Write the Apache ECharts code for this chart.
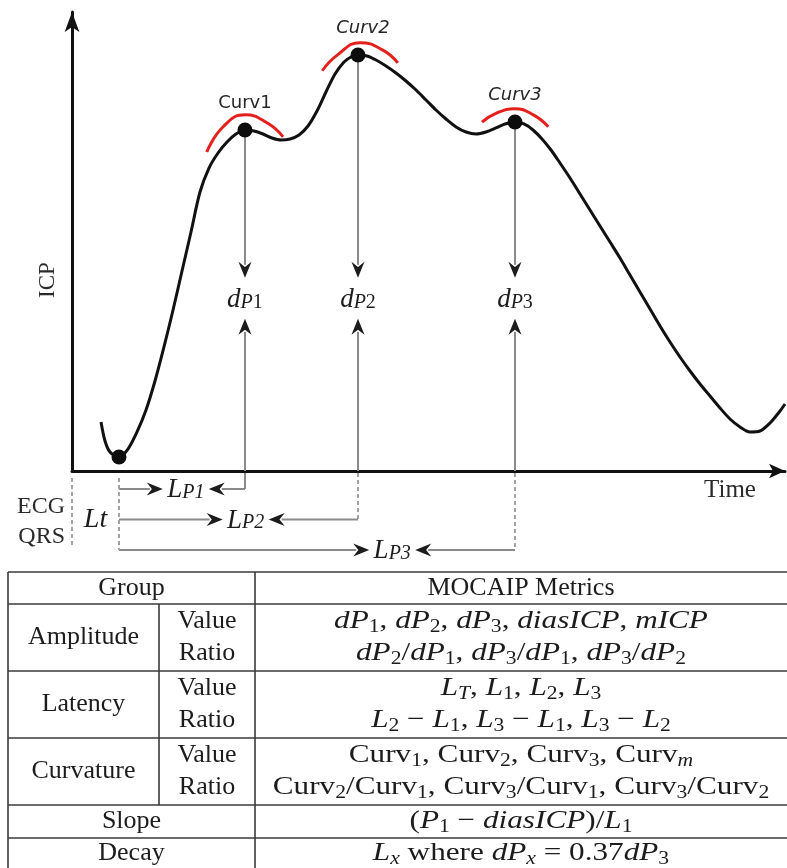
<!DOCTYPE html>
<html>
<head>
<meta charset="utf-8">
<title>ICP pulse morphology and MOCAIP metrics</title>
<script src="https://cdn.jsdelivr.net/npm/echarts@6.0.0/dist/echarts.min.js"></script>
<style>
  html, body { margin: 0; padding: 0; background: #fff; }
  #chart { width: 787px; height: 868px; }
</style>
</head>
<body>
<div id="chart"></div>
<script>
// ICP pulse over one cardiac cycle (time and pressure in arbitrary units)
const pulseTime = [4.07, 4.63, 5.33, 6.59, 7.85, 9.12, 10.38, 11.64, 12.90, 14.17, 15.43, 16.69, 17.95, 19.21, 20.48, 21.74, 23.00, 24.26, 25.53, 26.79, 28.05, 29.31, 30.58, 31.84, 33.10, 34.36, 35.62, 36.89, 38.15, 39.13, 40.11, 41.37, 42.64, 44.04, 45.44, 46.84, 48.25, 49.65, 51.05, 52.45, 53.86, 55.26, 56.66, 58.06, 59.47, 60.73, 62.13, 63.39, 64.66, 65.92, 67.18, 68.44, 69.85, 71.25, 72.65, 74.05, 75.46, 76.86, 78.26, 79.66, 81.07, 82.47, 83.87, 85.27, 86.68, 88.08, 89.48, 90.88, 92.29, 93.69, 95.09, 96.49, 97.90, 99.30, 100.00];
const pulseIcp = [10.68, 6.54, 4.14, 3.05, 4.79, 8.50, 13.29, 19.61, 27.02, 35.08, 43.57, 52.07, 60.78, 66.01, 69.28, 71.68, 73.42, 74.29, 74.07, 73.42, 72.55, 72.11, 72.33, 73.20, 75.16, 78.43, 82.57, 86.49, 89.11, 90.20, 90.63, 90.41, 89.54, 88.24, 86.71, 84.97, 83.01, 80.83, 78.65, 76.69, 74.95, 73.86, 73.42, 73.86, 74.73, 75.60, 76.03, 75.60, 74.29, 72.33, 69.93, 67.10, 63.83, 60.35, 56.86, 53.38, 49.89, 46.41, 42.70, 39.00, 35.29, 31.59, 28.10, 24.84, 21.79, 18.95, 16.34, 13.73, 11.33, 9.59, 8.50, 8.71, 10.46, 13.07, 14.60];

// Sample positions of the diastolic trough and of the sub-peaks P1, P2, P3
const troughIndex = 3;
const peakIndex = [17, 30, 46];
const peakNames = ['Curv1', 'Curv2', 'Curv3'];

// Curvature arcs fitted over each sub-peak
const arc1Time = [18.9, 21.2, 24.3, 27.4, 29.6];
const arc1Icp = [69.5, 75.0, 77.6, 75.8, 72.8];
const arc2Time = [35.1, 37.2, 40.4, 43.6, 45.7];
const arc2Icp = [87.2, 90.6, 93.3, 91.7, 88.9];
const arc3Time = [57.5, 59.6, 62.1, 64.7, 66.8];
const arc3Icp = [76.0, 78.0, 78.9, 77.6, 75.0];

// Metric table
const tableHeader = ['Group', 'MOCAIP Metrics'];
const groupNames = ['Amplitude', 'Latency', 'Curvature'];
const kindNames = ['Value', 'Ratio'];
const singleNames = ['Slope', 'Decay'];
const metricRows = [
  'dP_1, dP_2, dP_3, diasICP, mICP',
  'dP_2/dP_1, dP_3/dP_1, dP_3/dP_2',
  'L_T, L_1, L_2, L_3',
  'L_2 - L_1, L_3 - L_1, L_3 - L_2',
  '\\rm{Curv}_1, \\rm{Curv}_2, \\rm{Curv}_3, \\rm{Curv}_m',
  '\\rm{Curv}_2/\\rm{Curv}_1, \\rm{Curv}_3/\\rm{Curv}_1, \\rm{Curv}_3/\\rm{Curv}_2',
  '(P_1 - diasICP)/L_1',
  'L_x\\rm{ where }dP_x = 0.37dP_3'
];

const SERIF = '"Liberation Serif", "Times New Roman", serif';
const SANS = '"DejaVu Sans", Verdana, sans-serif';
const INK = '#1c1c1c';
const GUIDE = '#8a8a8a';
const DASH = { stroke: '#a2a2a2', lineDash: [4, 3] };

// tier of the dP labels, and placement of the latency rows under the axis
const DP_LEVEL = 37.3;
const ROW_FIRST = 18;
const ROW_STEP = 30.5;
const LP_SPOT = [0.53, 0.53, 0.69];
const HEAD = 16;

const TAG_RICH = {
  d: { fontFamily: SERIF, fontStyle: 'italic', fontSize: 27, lineHeight: 30 },
  p: { fontFamily: SERIF, fontStyle: 'italic', fontSize: 20, lineHeight: 20, padding: [5, 0, 0, 0] },
  n: { fontFamily: SERIF, fontSize: 20, lineHeight: 20, padding: [5, 0, 0, 0] }
};
const LAT_RICH = {
  d: { fontFamily: SERIF, fontStyle: 'italic', fontSize: 27, lineHeight: 30 },
  p: { fontFamily: SERIF, fontStyle: 'italic', fontSize: 20, lineHeight: 20, padding: [5, 0, 0, 0] },
  n: { fontFamily: SERIF, fontStyle: 'italic', fontSize: 20, lineHeight: 20, padding: [5, 0, 0, 0] }
};
const MATH_RICH = {
  i: { fontFamily: SERIF, fontStyle: 'italic', fontSize: 26, lineHeight: 30 },
  r: { fontFamily: SERIF, fontSize: 26, lineHeight: 30 },
  si: { fontFamily: SERIF, fontStyle: 'italic', fontSize: 18, lineHeight: 16, padding: [12, 0, 0, 0] },
  sr: { fontFamily: SERIF, fontSize: 18, lineHeight: 16, padding: [12, 0, 0, 0] }
};

function seg(x1, y1, x2, y2, extra) {
  return {
    type: 'line',
    shape: { x1: x1, y1: y1, x2: x2, y2: y2 },
    style: Object.assign({ stroke: GUIDE, lineWidth: 2 }, extra || {})
  };
}

// stealth arrowhead with its tip at (tx, ty), pointing along (dx, dy)
function head(tx, ty, dx, dy) {
  const hw = 6.5;
  const bx = tx - dx * HEAD, by = ty - dy * HEAD;
  const nx = tx - dx * HEAD * 0.68, ny = ty - dy * HEAD * 0.68;
  const px = -dy, py = dx;
  return {
    type: 'polygon',
    shape: { points: [[tx, ty], [bx + px * hw, by + py * hw], [nx, ny], [bx - px * hw, by - py * hw]] },
    style: { fill: INK }
  };
}

function label(x, y, text, style, extra) {
  return Object.assign({
    type: 'text', x: x, y: y,
    style: Object.assign({ text: text, align: 'center', verticalAlign: 'middle', fill: INK }, style)
  }, extra || {});
}

// dP arrows above the axis and the latency row below it, one per sub-peak
function renderPeak(params, api) {
  const k = params.dataIndex;
  const t = api.value(0);
  const top = api.coord([t, api.value(1)]);
  const foot = api.coord([t, 0]);
  const tag = api.coord([t, DP_LEVEL]);
  const onset = api.coord([pulseTime[troughIndex], 0]);
  const x = top[0];
  const downTip = tag[1] - 22;
  const upTip = tag[1] + 19;
  const rowY = foot[1] + ROW_FIRST + ROW_STEP * k;
  const cx = onset[0] + LP_SPOT[k] * (x - onset[0]);
  const rTip = cx - 23;
  const lTip = cx + 23;
  const n = String(k + 1);
  return {
    type: 'group',
    children: [
      seg(x, top[1], x, downTip - HEAD + 3),
      head(x, downTip, 0, 1),
      label(x, tag[1], '{d|d}{p|P}{n|' + n + '}', { rich: TAG_RICH }),
      seg(x, foot[1], x, upTip + HEAD - 3),
      head(x, upTip, 0, -1),
      seg(x, foot[1] + 2, x, rowY, k === 0 ? {} : DASH),
      seg(x, rowY, lTip + HEAD - 3, rowY),
      head(lTip, rowY, -1, 0),
      label(cx, rowY + 1, '{d|L}{p|P}{n|' + n + '}', { rich: LAT_RICH }),
      head(rTip, rowY, 1, 0),
      seg(onset[0], rowY, rTip - HEAD + 3, rowY)
    ]
  };
}

// ECG QRS reference and the onset latency under the axis
function renderOnset(params, api) {
  const foot = api.coord([api.value(0), 0]);
  const zero = api.coord([0, 0]);
  return {
    type: 'group',
    children: [
      seg(zero[0], foot[1] + 7, zero[0], foot[1] + 75, DASH),
      seg(foot[0], foot[1] + 7, foot[0], foot[1] + ROW_FIRST + 2 * ROW_STEP, DASH),
      label((zero[0] + foot[0]) / 2, foot[1] + ROW_FIRST + ROW_STEP,
        'Lt', { fontFamily: SERIF, fontStyle: 'italic', fontSize: 28 }),
      label(zero[0] - 7, foot[1] + 36, 'ECG', { fontFamily: SERIF, fontSize: 24, align: 'right', fill: '#2a2a2a' }),
      label(zero[0] - 7, foot[1] + 66, 'QRS', { fontFamily: SERIF, fontSize: 24, align: 'right', fill: '#2a2a2a' })
    ]
  };
}

// light LaTeX-like markup: letters italic, _x subscript, \rm{...} upright
function mathRich(src) {
  const parts = [];
  const add = (style, txt) => {
    const last = parts[parts.length - 1];
    if (last && last[0] === style) last[1] += txt; else parts.push([style, txt]);
  };
  let i = 0;
  while (i < src.length) {
    if (src.startsWith('\\rm{', i)) {
      const j = src.indexOf('}', i);
      add('r', src.slice(i + 4, j));
      i = j + 1;
    } else if (src[i] === '_') {
      const ch = src[i + 1];
      add(/[A-Za-z]/.test(ch) ? 'si' : 'sr', ch);
      i += 2;
    } else if (src[i] === '-') {
      add('r', '\u2212');
      i++;
    } else {
      add(/[A-Za-z]/.test(src[i]) ? 'i' : 'r', src[i]);
      i++;
    }
  }
  return parts.map(p => '{' + p[0] + '|' + p[1] + '}').join('');
}

// table grid and cell text
const TB = { left: 8, split1: 159, split2: 255, right: 787, rows: [572, 604, 671, 738, 805, 838, 869] };
function buildTable() {
  const els = [];
  const line = (x1, y1, x2, y2) => els.push({
    type: 'line', shape: { x1: x1, y1: y1, x2: x2, y2: y2 },
    style: { stroke: '#3a3a3a', lineWidth: 1.6 }
  });
  const word = (x, y, txt) => els.push(label(x, y, txt, { fontFamily: SERIF, fontSize: 26 }));
  const metric = (y, src) => els.push(label((TB.split2 + TB.right) / 2, y, mathRich(src),
    { rich: MATH_RICH }, { scaleX: 1.2 }));

  TB.rows.slice(0, 6).forEach(y => line(TB.left, y, TB.right, y));
  line(TB.left, TB.rows[0], TB.left, TB.rows[6]);
  line(TB.split2, TB.rows[0], TB.split2, TB.rows[6]);
  line(TB.split1, TB.rows[1], TB.split1, TB.rows[4]);

  const head0 = (TB.rows[0] + TB.rows[1]) / 2;
  word((TB.left + TB.split2) / 2, head0, tableHeader[0]);
  word((TB.split2 + TB.right) / 2, head0, tableHeader[1]);

  groupNames.forEach((g, gi) => {
    const top = TB.rows[gi + 1], bottom = TB.rows[gi + 2];
    word((TB.left + TB.split1) / 2, (top + bottom) / 2, g);
    kindNames.forEach((kind, ki) => {
      const y = top + 17 + ki * 32.5;
      word((TB.split1 + TB.split2) / 2, y, kind);
      metric(y, metricRows[gi * 2 + ki]);
    });
  });
  singleNames.forEach((s, si) => {
    const y = (TB.rows[4 + si] + TB.rows[5 + si]) / 2;
    word((TB.left + TB.split2) / 2, y, s);
    metric(y, metricRows[6 + si]);
  });
  return els;
}

const chart = echarts.init(document.getElementById('chart'));

const dots = [troughIndex].concat(peakIndex).map((idx, j) => ({
  value: [pulseTime[idx], pulseIcp[idx]],
  label: j === 0 ? { show: false } : {
    show: true,
    formatter: peakNames[j - 1],
    fontStyle: j === 1 ? 'normal' : 'italic',
    offset: j === 2 ? [5, 0] : [0, 0]
  }
}));

const arcSeries = [[arc1Time, arc1Icp], [arc2Time, arc2Icp], [arc3Time, arc3Icp]].map(a => ({
  type: 'line',
  data: a[0].map((t, i) => [t, a[1][i]]),
  smooth: true,
  showSymbol: false,
  clip: false,
  z: 4,
  lineStyle: { color: '#e3201b', width: 3 }
}));

chart.setOption({
  animation: false,
  backgroundColor: '#ffffff',
  grid: { left: 72, right: 2, top: 12, bottom: 397, outerBoundsMode: 'none' },
  xAxis: {
    type: 'value', min: 0, max: 100,
    axisLine: { show: true, onZero: false, symbol: ['none', 'arrow'], symbolSize: [11, 16], symbolOffset: [0, 0],
      lineStyle: { color: '#111', width: 3 } },
    axisTick: { show: false }, axisLabel: { show: false }, splitLine: { show: false }
  },
  yAxis: {
    type: 'value', min: 0, max: 100,
    axisLine: { show: true, onZero: false, symbol: ['none', 'arrow'], symbolSize: [11, 20], symbolOffset: [0, 0],
      lineStyle: { color: '#111', width: 3 } },
    axisTick: { show: false }, axisLabel: { show: false }, splitLine: { show: false }
  },
  series: [
    {
      type: 'custom',
      coordinateSystem: 'cartesian2d',
      data: peakIndex.map(i => [pulseTime[i], pulseIcp[i]]),
      encode: { x: 0, y: 1 },
      renderItem: renderPeak,
      z: 1,
      silent: true
    },
    {
      type: 'custom',
      coordinateSystem: 'cartesian2d',
      data: [[pulseTime[troughIndex], pulseIcp[troughIndex]]],
      encode: { x: 0, y: 1 },
      renderItem: renderOnset,
      z: 1,
      silent: true
    },
    {
      type: 'line',
      data: pulseTime.map((t, i) => [t, pulseIcp[i]]),
      smooth: 0.3,
      showSymbol: false,
      clip: false,
      z: 3,
      lineStyle: { color: '#111', width: 3 }
    }
  ].concat(arcSeries).concat([
    {
      type: 'scatter',
      data: dots,
      symbolSize: 15,
      z: 5,
      itemStyle: { color: '#0d0d0d', opacity: 1 },
      label: { position: 'top', distance: 10, fontFamily: SANS, fontSize: 18, color: '#262626' }
    }
  ]),
  graphic: [
    label(48, 280, 'ICP', { fontFamily: SERIF, fontSize: 23, fill: '#2a2a2a' }, { rotation: Math.PI / 2 }),
    label(730, 490, 'Time', { fontFamily: SERIF, fontSize: 25, fill: '#2a2a2a' })
  ].concat(buildTable())
});
</script>
</body>
</html>
